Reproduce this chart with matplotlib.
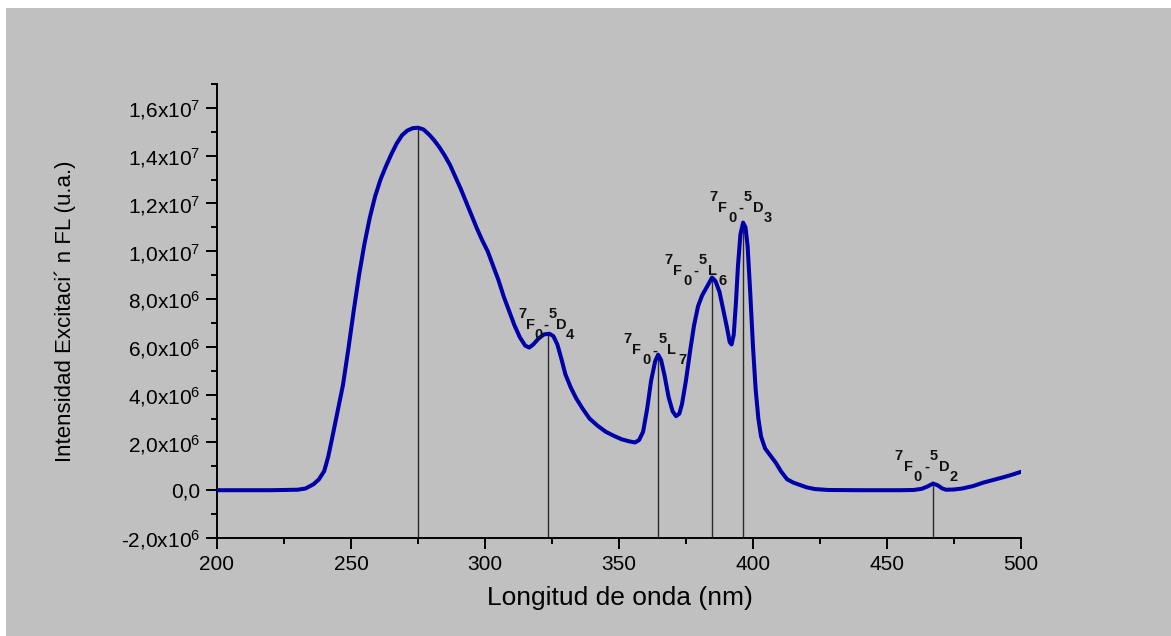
import numpy as np
import matplotlib
matplotlib.use("Agg")
import matplotlib.pyplot as plt
from matplotlib.patches import Rectangle
from matplotlib.ticker import MultipleLocator, FuncFormatter
from matplotlib import font_manager

# ---------------- data ----------------
wavelength_nm = [200, 210, 220, 230, 233, 236, 238, 240, 241.5, 243, 245, 247, 249,
                 251, 253, 255, 257, 259, 261, 263, 265, 267, 269, 271, 273, 275,
                 277, 279, 281, 283, 285, 287, 289, 291, 293, 295, 297, 299, 301,
                 303, 305, 307, 309, 311, 313, 315, 316.5, 318, 320, 322, 324,
                 325.5, 327, 328.5, 330, 332, 334, 336.5, 339, 342, 345, 348, 351,
                 354, 356, 357.5, 359, 360.5, 362, 363.5, 364.6, 365.7, 367, 368.5,
                 370, 371.3, 372.5, 373.5, 375, 376.5, 378, 379.5, 381, 383, 384.7,
                 386, 387.5, 389, 390.3, 391.3, 392, 392.8, 393.6, 394.4, 395.3,
                 396.3, 397.2, 398, 399, 400, 401, 402, 403, 404.5, 406.5, 408.5,
                 410.5, 412.7, 415, 417.5, 420, 423, 428, 440, 455, 460, 463, 465,
                 467.2, 469, 470.5, 472, 475, 478, 482, 486, 490, 494, 497, 500]
intensity_1e6 = [0, 0, 0, 0.02, 0.07, 0.25, 0.45, 0.8, 1.4, 2.2, 3.3, 4.4, 5.9,
                 7.5, 9.0, 10.3, 11.4, 12.3, 13.0, 13.55, 14.05, 14.5, 14.85, 15.05, 15.15, 15.17,
                 15.1, 14.9, 14.65, 14.35, 14.0, 13.6, 13.1, 12.6, 12.05, 11.5, 10.95, 10.45, 10.0,
                 9.4, 8.8, 8.1, 7.5, 6.9, 6.4, 6.05, 5.97, 6.1, 6.35, 6.52, 6.55,
                 6.45, 6.1, 5.5, 4.85, 4.3, 3.85, 3.4, 3.0, 2.7, 2.45, 2.28, 2.13,
                 2.04, 2.0, 2.1, 2.45, 3.4, 4.6, 5.4, 5.67, 5.45, 4.8, 3.9,
                 3.3, 3.1, 3.2, 3.6, 4.6, 5.8, 6.9, 7.7, 8.15, 8.55, 8.9,
                 8.75, 8.3, 7.5, 6.8, 6.2, 6.1, 6.5, 7.8, 9.4, 10.7,
                 11.2, 11.0, 10.2, 8.2, 6.0, 4.2, 3.0, 2.25, 1.75, 1.45, 1.15,
                 0.78, 0.46, 0.32, 0.22, 0.12, 0.05, 0.01, 0, 0, 0.01, 0.06, 0.15,
                 0.28, 0.2, 0.08, 0.02, 0.03, 0.07, 0.17, 0.32, 0.44, 0.56, 0.66, 0.77]

# vertical marker lines (nm)
peak_nm = [275, 323.5, 364.6, 384.7, 396.3, 467.2]

# transition labels 7F0 - 5XJ (one per labelled peak)
label_peak_nm = [323.5, 364.6, 384.7, 396.3, 467.2]
lower_mult = ["7", "7", "7", "7", "7"]
lower_term = ["F", "F", "F", "F", "F"]
lower_J = ["0", "0", "0", "0", "0"]
upper_mult = ["5", "5", "5", "5", "5"]
upper_term = ["D", "L", "L", "D", "D"]
upper_J = ["4", "7", "6", "3", "2"]

x_label = "Longitud de onda (nm)"
y_label = "Intensidad Excitaci´ n FL (u.a.)"

# ---------------- style ----------------
names = {f.name for f in font_manager.fontManager.ttflist}
base_font = "Liberation Sans" if "Liberation Sans" in names else "DejaVu Sans"
plt.rcParams["font.family"] = [base_font, "DejaVu Sans"]
plt.rcParams["mathtext.fontset"] = "custom"
plt.rcParams["mathtext.rm"] = base_font
plt.rcParams["mathtext.it"] = base_font
plt.rcParams["mathtext.bf"] = base_font + ":bold"

W, H = 1171, 636
fig = plt.figure(figsize=(W / 100, H / 100), dpi=100, facecolor="white")
fig.patches.append(Rectangle((6 / W, 0), 1 - 6 / W, 1 - 8 / H, transform=fig.transFigure,
                             facecolor="#c0c0c0", edgecolor="none", zorder=-10))

ax = fig.add_axes([217 / W, 1 - 538 / H, (1021 - 217) / W, (538 - 84) / H])
ax.set_facecolor("none")

x = np.array(wavelength_nm)
y = np.array(intensity_1e6) * 1e6

peak_y = np.interp(peak_nm, x, y)
ax.vlines(peak_nm, -2e6, peak_y, color="#2a2a2a", lw=1.0, zorder=1)
ax.plot(x, y, color="#0000a8", lw=2.9, solid_joinstyle="round", solid_capstyle="round",
        zorder=3)

# label layout (pixels): anchor = left of label / top of main row, relative to peak
label_anchor_px = [(-30, 16), (-35, 11.5), (-48, 13.5), (-34, 21.5), (-38.5, 23.5)]
label_xscale = [0.87, 1.0, 1.0, 1.0, 1.0]
char_dx = [0, 9, 19, 29.5, 35, 44, 55]
row_dy = {"sup": -11, "main": 0, "sub": 10}
char_rows = ["sup", "main", "sub", "main", "sup", "main", "sub"]

label_y = np.interp(label_peak_nm, x, y)
for i, (px, py) in enumerate(zip(label_peak_nm, label_y)):
    chars = [lower_mult[i], lower_term[i], lower_J[i], "-",
             upper_mult[i], upper_term[i], upper_J[i]]
    ax0, ay0 = label_anchor_px[i]
    for ch, cdx, row in zip(chars, char_dx, char_rows):
        ox = ax0 + cdx * label_xscale[i]
        oy = -(-ay0 + row_dy[row])
        ax.annotate(ch, (px, py), xytext=(ox, oy), textcoords="offset pixels",
                    ha="left", va="top", fontsize=10.5, fontweight="bold",
                    color="#111111", zorder=4)

ax.set_xlim(200, 500)
ax.set_ylim(-2e6, 1.7e7)

for s in ["top", "right"]:
    ax.spines[s].set_visible(False)
for s in ["left", "bottom"]:
    ax.spines[s].set_linewidth(1.4)
    ax.spines[s].set_color("black")

ax.xaxis.set_major_locator(MultipleLocator(50))
ax.xaxis.set_minor_locator(MultipleLocator(25))
ax.yaxis.set_major_locator(MultipleLocator(2e6))
ax.yaxis.set_minor_locator(MultipleLocator(1e6))


def yfmt(v, pos):
    if abs(v) < 1:
        return "0,0"
    e = int(np.floor(np.log10(abs(v))))
    m = v / 10 ** e
    return ("%.1f" % m).replace(".", ",") + "x10$^{%d}$" % e


ax.yaxis.set_major_formatter(FuncFormatter(yfmt))
ax.tick_params(axis="both", which="major", direction="out", length=8, width=1.4,
               labelsize=15, colors="black", pad=4)
ax.tick_params(axis="both", which="minor", direction="out", length=4, width=1.4)

ax.set_xlabel(x_label, fontsize=19, va="center")
ax.set_ylabel(y_label, fontsize=16, va="center")
ax.xaxis.set_label_coords((620 - 217) / 804, (538 - 598) / 454)
ax.yaxis.set_label_coords((65 - 217) / 804, (538 - 311) / 454)

fig.savefig("out.png", dpi=100, facecolor="white")
